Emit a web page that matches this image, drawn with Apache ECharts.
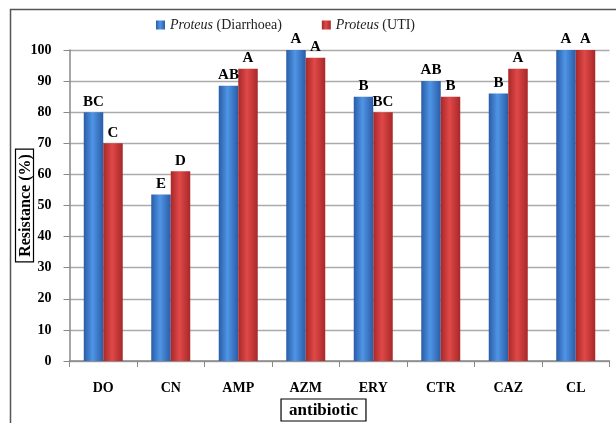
<!DOCTYPE html>
<html>
<head>
<meta charset="utf-8">
<script src="https://cdn.jsdelivr.net/npm/echarts@6/dist/echarts.min.js"></script>
<style>
  html, body { margin: 0; padding: 0; background: #fff; }
  #main { width: 616px; height: 423px; }
</style>
</head>
<body>
<div id="main"></div>
<script>
var antibiotics = ["DO", "CN", "AMP", "AZM", "ERY", "CTR", "CAZ", "CL"];
var diarrhoea = [80, 53.5, 88.5, 100, 85, 90, 86, 100];
var uti = [70, 61, 94, 97.5, 80, 85, 94, 100];
var diarrhoeaLetters = ["BC", "E", "AB", "A", "B", "AB", "B", "A"];
var utiLetters = ["C", "D", "A", "A", "BC", "B", "A", "A"];
var yTicks = [0, 100, 10];

var serif = "'Liberation Serif', 'DejaVu Serif', serif";

function grad(dark, light) {
  return new echarts.graphic.LinearGradient(0, 0, 1, 0, [
    { offset: 0, color: dark },
    { offset: 0.45, color: light },
    { offset: 1, color: dark }
  ]);
}

var chartDom = document.getElementById("main");
var myChart = echarts.init(chartDom);

var option = {
  backgroundColor: "#fff",
  graphic: [{
    type: "rect",
    shape: { x: 10.5, y: 9.5, width: 640, height: 440 },
    style: { fill: "none", stroke: "#555", lineWidth: 1.5 },
    silent: true
  }],
  legend: {
    left: 151,
    top: 13,
    itemWidth: 9,
    itemHeight: 9,
    itemGap: 40,
    icon: "rect",
    textStyle: {
      fontFamily: serif,
      fontSize: 14,
      color: "#222",
      rich: { i: { fontStyle: "italic", fontFamily: serif, fontSize: 14, color: "#222" } }
    },
    formatter: function (n) { return n.replace("Proteus", "{i|Proteus}"); }
  },
  grid: { left: 69.5, right: 6.5, top: 50, bottom: 62, outerBoundsMode: "none", containLabel: false },
  xAxis: {
    type: "category",
    data: antibiotics,
    name: "{b|antibiotic}{s|}",
    nameLocation: "middle",
    nameGap: 38,
    nameMoveOverlap: false,
    nameTextStyle: {
      rich: {
        b: {
          fontFamily: serif, fontWeight: "bold", fontSize: 17, color: "#000",
          borderColor: "#000", borderWidth: 1.2, padding: [3, 8, 2, 8]
        },
        s: { width: 32 }
      }
    },
    axisLine: { lineStyle: { color: "#888", width: 1.5 } },
    axisTick: { show: true, length: 6, lineStyle: { color: "#888" } },
    axisLabel: { fontFamily: serif, fontWeight: "bold", fontSize: 14, color: "#000", margin: 20 }
  },
  yAxis: {
    type: "value",
    min: yTicks[0],
    max: yTicks[1],
    interval: yTicks[2],
    name: "Resistance (%)",
    nameLocation: "middle",
    nameGap: 36,
    nameMoveOverlap: false,
    nameRotate: 90,
    nameTextStyle: {
      fontFamily: serif, fontWeight: "bold", fontSize: 16, color: "#000",
      borderColor: "#000", borderWidth: 1.2, padding: [2, 5, 0, 5]
    },
    axisLine: { show: true, lineStyle: { color: "#888", width: 1.5 } },
    axisTick: { show: true, length: 6, lineStyle: { color: "#888" } },
    axisLabel: { fontFamily: serif, fontWeight: "bold", fontSize: 14, color: "#000", margin: 18 },
    splitLine: { lineStyle: { color: "#aaa", width: 1.3 } }
  },
  series: [
    {
      name: "Proteus (Diarrhoea)",
      type: "bar",
      data: diarrhoea,
      barWidth: 19.5,
      barGap: "0%",
      itemStyle: { color: grad("#2a5ca6", "#4f95e6") },
      label: {
        show: true, position: "top", distance: 3,
        fontFamily: serif, fontWeight: "bold", fontSize: 15, color: "#000",
        formatter: function (p) { return diarrhoeaLetters[p.dataIndex]; }
      }
    },
    {
      name: "Proteus (UTI)",
      type: "bar",
      data: uti,
      barWidth: 19.5,
      itemStyle: { color: grad("#a82828", "#e04848") },
      label: {
        show: true, position: "top", distance: 3,
        fontFamily: serif, fontWeight: "bold", fontSize: 15, color: "#000",
        formatter: function (p) { return utiLetters[p.dataIndex]; }
      }
    }
  ]
};

option && myChart.setOption(option);
</script>
</body>
</html>
